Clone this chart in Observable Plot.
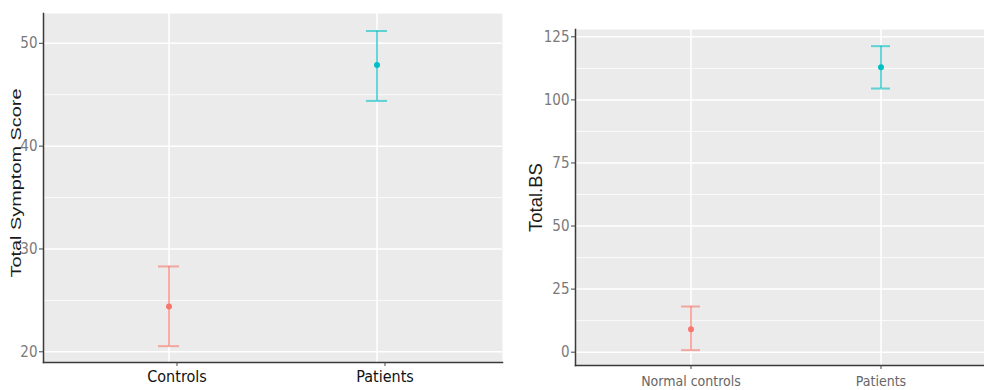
<!DOCTYPE html>
<html><head><meta charset="utf-8">
<script src="https://cdn.jsdelivr.net/npm/d3@7"></script>
<script src="https://cdn.jsdelivr.net/npm/@observablehq/plot@0.6"></script>
<style>
body{margin:0;background:#fff;}
#wrap{position:relative;width:984px;height:390px;overflow:hidden;background:#fff;}
#left{position:absolute;left:0;top:0;width:505px;height:390px;}
#right{position:absolute;left:505px;top:0;width:490px;height:390px;}
#wrap svg{max-width:none !important;}
</style></head><body><div id="wrap"><div id="left"></div><div id="right"></div></div>
<script>
// Left panel data
const leftGroups = ["Controls", "Patients"];
const leftMean = [24.4, 47.9];
const leftLow = [20.55, 44.4];
const leftHigh = [28.3, 51.2];
const leftYTicks = [20, 30, 40, 50];
const leftYMinor = [25, 35, 45];
const leftYLabel = "Total Symptom Score";

// Right panel data
const rightGroups = ["Normal controls", "Patients"];
const rightMean = [9.1, 112.9];
const rightLow = [0.8, 104.5];
const rightHigh = [18.1, 121.3];
const rightYTicks = [0, 25, 50, 75, 100, 125];
const rightYMinor = [12.5, 37.5, 62.5, 87.5, 112.5];
const rightYLabel = "Total.BS";

const groupColors = ["#F8766D", "#00BFC4"];

const NARROW = "'Liberation Sans Narrow', 'DejaVu Sans Condensed', 'Liberation Sans', Arial, sans-serif";
const REG = "'Liberation Sans', Arial, sans-serif";

function panel(cfg) {
  const data = cfg.groups.map((g, i) => ({group: g, mean: cfg.mean[i], lo: cfg.low[i], hi: cfg.high[i], color: groupColors[i]}));
  return Plot.plot({
    width: cfg.width, height: 390,
    marginLeft: cfg.ml, marginRight: cfg.mr, marginTop: cfg.mt, marginBottom: cfg.mb,
    style: {background: "transparent", overflow: "visible"},
    x: {type: "band", domain: cfg.groups, paddingInner: 0.9, paddingOuter: 0.55, label: null},
    y: {domain: cfg.ydomain, label: null},
    color: {type: "identity"},
    marks: [
      Plot.frame({fill: "#EBEBEB", stroke: null}),
      Plot.gridY(cfg.minor, {stroke: "#fff", strokeOpacity: 1, strokeWidth: 0.8}),
      Plot.gridY(cfg.ticks, {stroke: "#fff", strokeOpacity: 1, strokeWidth: 1.5}),
      Plot.gridX({stroke: "#fff", strokeOpacity: 1, strokeWidth: 1.5}),
      Plot.ruleX(data, {x: "group", y1: "lo", y2: "hi", stroke: "color", strokeOpacity: 0.6, strokeWidth: 2}),
      Plot.tickY(data, {x: "group", y: "lo", stroke: "color", strokeOpacity: 0.6, strokeWidth: 2}),
      Plot.tickY(data, {x: "group", y: "hi", stroke: "color", strokeOpacity: 0.6, strokeWidth: 2}),
      Plot.dot(data, {x: "group", y: "mean", fill: "color", r: 3}),
      Plot.frame({anchor: "left", stroke: "#3a3a3a", strokeWidth: 1.5}),
      Plot.frame({anchor: "bottom", stroke: "#3a3a3a", strokeWidth: 1.5}),
      Plot.axisY(cfg.ticks, {tickSize: 4, tickPadding: 2, stroke: "#444", fill: "#7a7a7a", fontSize: cfg.yFont, fontFamily: NARROW, label: null}),
      Plot.axisX({tickSize: 4, tickPadding: cfg.xPad, stroke: "#444", fill: cfg.xColor, fontSize: cfg.xFont, fontFamily: NARROW, dx: cfg.xdx, label: null}),
      Plot.text([cfg.ylabel], {frameAnchor: "left", rotate: -90, dx: -cfg.labelOff, dy: cfg.labelDy, textAnchor: cfg.labelAnchor, fontSize: cfg.labelFont, fontFamily: REG, fill: "#1a1a1a", className: "ylab"})
    ]
  });
}

const left = panel({
  groups: leftGroups, mean: leftMean, low: leftLow, high: leftHigh,
  ticks: leftYTicks, minor: leftYMinor, ydomain: [18.96, 52.9],
  width: 505, ml: 43, mr: 3, mt: 13, mb: 28,
  yFont: 15, xFont: 16, xColor: "#111", xdx: 8, xPad: 4,
  ylabel: leftYLabel, labelOff: 27, labelFont: 15, labelAnchor: "start", labelDy: 89.5
});
document.getElementById("left").appendChild(left);

const right = panel({
  groups: rightGroups, mean: rightMean, low: rightLow, high: rightHigh,
  ticks: rightYTicks, minor: rightYMinor, ydomain: [-5.28, 127.9],
  width: 490, ml: 70, mr: 0, mt: 29, mb: 25,
  yFont: 15, xFont: 14, xColor: "#666", xdx: 0, xPad: 7,
  ylabel: rightYLabel, labelOff: 39, labelFont: 18.5, labelAnchor: "middle", labelDy: 0
});
document.getElementById("right").appendChild(right);

// stretch the left y label along its length like the reference
d3.select(left).selectAll(".ylab text").attr("textLength", 189).attr("lengthAdjust", "spacingAndGlyphs");
</script></body></html>
